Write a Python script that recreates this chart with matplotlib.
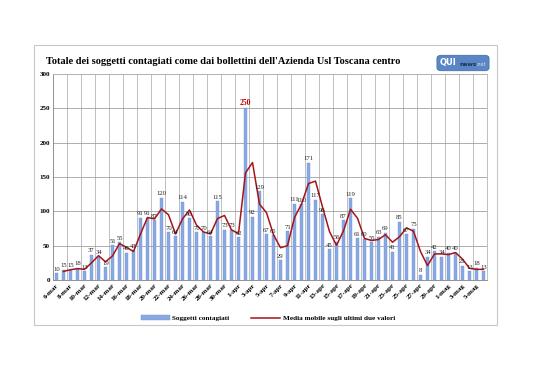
import numpy as np
import matplotlib
matplotlib.use("Agg")
import matplotlib.pyplot as plt
from matplotlib.patches import Patch, Rectangle, FancyBboxPatch
from matplotlib.lines import Line2D

# giorni dal 6 marzo al 6 maggio
giorni = ([f"{d}-mar" for d in range(6, 32)] +
          [f"{d}-apr" for d in range(1, 31)] +
          [f"{d}-mag" for d in range(1, 7)])

# soggetti contagiati
contagiati = [10, 15, 15, 18, 13, 37, 34, 19, 51, 55, 40, 43, 91, 91, 87, 120,
              70, 64, 114, 90, 70, 70, 64, 115, 73, 73, 62, 250, 92, 129, 67, 65,
              29, 71, 111, 110, 171, 117, 96, 45, 56, 87, 119, 61, 60, 55, 63, 69,
              41, 85, 67, 75, 8, 34, 42, 34, 40, 40, 21, 13, 18, 13]

titolo = "Totale dei soggetti contagiati come dai bollettini dell'Azienda Usl Toscana centro"

# media mobile sugli ultimi due valori
v = np.array(contagiati, dtype=float)
media = (v[1:] + v[:-1]) / 2
x = np.arange(len(v))

serif = ["Liberation Serif", "DejaVu Serif"]

fig = plt.figure(figsize=(5.38, 3.8), dpi=100)
W, H = 538, 380

# cornice del grafico
fig.patches.append(Rectangle((34 / W, 1 - 325 / H), (497 - 34) / W, (325 - 45) / H,
                             transform=fig.transFigure, fill=False,
                             edgecolor="#c8c8c8", lw=0.8))

ax = fig.add_axes([53 / W, 1 - 280 / H, (487 - 53) / W, (280 - 74) / H])

ax.bar(x, contagiati, width=0.55, color="#8aa9e2", edgecolor="#6f92d6", lw=0.3, zorder=2)
ax.plot(x[1:], media, color="#a51418", lw=1.1, zorder=3)

for i, val in enumerate(contagiati):
    if val == 250:
        ax.text(i, val + 2, str(val), ha="center", va="bottom", fontsize=5.5,
                family=serif, color="#c00000", fontweight="bold", zorder=4)
    else:
        ax.text(i, val + 2, str(val), ha="center", va="bottom", fontsize=4.8,
                family=serif, color="#222222", zorder=4)

ax.set_xlim(-0.5, len(v) - 0.5)
ax.set_ylim(0, 300)
ax.set_yticks(range(0, 301, 50))
ax.set_xticks(x[::2])
ax.set_xticklabels(giorni[::2], rotation=45, ha="right", rotation_mode="anchor")
ax.set_xticks(np.arange(1.5, len(v), 2), minor=True)
ax.grid(axis="y", color="#a0a0a0", lw=0.6, zorder=0)
ax.grid(axis="x", which="minor", color="#b4b4b4", lw=0.6, zorder=0)
ax.tick_params(axis="both", which="both", length=0, labelsize=5, pad=2)
for lab in ax.get_xticklabels() + ax.get_yticklabels():
    lab.set_family(serif)
    lab.set_fontweight("bold")
for s in ["top", "right"]:
    ax.spines[s].set_color("#b4b4b4")
    ax.spines[s].set_linewidth(0.6)
for s in ["left", "bottom"]:
    ax.spines[s].set_color("#808080")
    ax.spines[s].set_linewidth(0.6)

fig.text(46 / W, 1 - 61 / H, titolo, fontsize=7.5, fontweight="bold",
         family=serif, va="center", ha="left")

# logo
fig.patches.append(FancyBboxPatch((438 / W, 1 - 70 / H), 50 / W, 14 / H,
                                  boxstyle="round,pad=0.002,rounding_size=0.008",
                                  transform=fig.transFigure, facecolor="#5b86c6",
                                  edgecolor="#3d6aa8", lw=0.5))
fig.text(440 / W, 1 - 63 / H, "QUI", fontsize=6, fontweight="bold", color="white",
         family=["DejaVu Sans"], va="center", ha="left")
fig.text(459 / W, 1 - 64 / H, "news", fontsize=4.3, fontweight="bold", color="#1c2f5a",
         family=["DejaVu Sans"], va="center", ha="left")
fig.text(476 / W, 1 - 64 / H, ".net", fontsize=3.4, color="#d8e4f4",
         family=["DejaVu Sans"], va="center", ha="left")

handles = [Patch(facecolor="#8aa9e2", edgecolor="#6f92d6", lw=0.3),
           Line2D([0], [0], color="#a51418", lw=1.1)]
fig.legend(handles, ["Soggetti contagiati", "Media mobile sugli ultimi due valori"],
           loc="center", bbox_to_anchor=(268 / W, 1 - 318 / H), ncol=2, frameon=False,
           prop={"family": serif, "weight": "bold", "size": 5.2},
           handlelength=4, handleheight=0.6, columnspacing=3, handletextpad=0.4)

fig.savefig("out.png", dpi=100, facecolor="white")
